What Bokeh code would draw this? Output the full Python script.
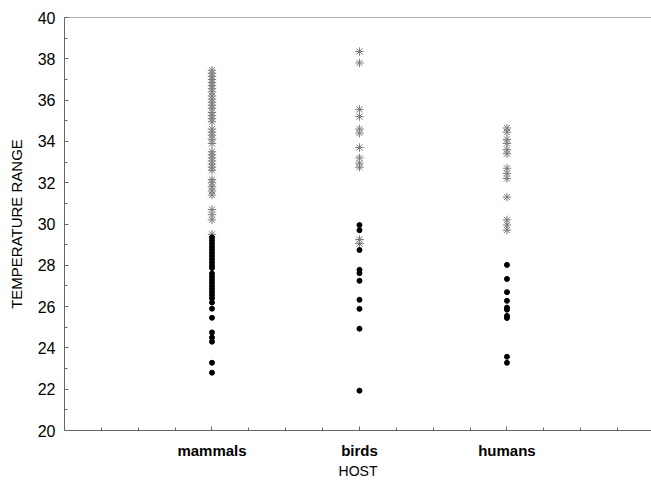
from bokeh.plotting import figure
from bokeh.models import FixedTicker, Span, Range1d
from bokeh.embed import file_html
from bokeh.resources import INLINE

# categories (x positions 1, 2, 3)
hosts = ["mammals", "birds", "humans"]
host_pos = [1, 2, 3]

# temperature ranges: black dots
mammals_dot = [29.35, 29.2, 29.05, 28.9, 28.75, 28.6, 28.45, 28.3, 28.15, 28.0, 27.87,
               27.6, 27.45, 27.3, 27.15, 27.0, 26.85, 26.7, 26.55, 26.4, 26.2,
               25.9, 25.46, 24.75, 24.5, 24.3, 23.28, 22.8]
birds_dot = [29.95, 29.7, 28.74, 27.78, 27.62, 27.25, 26.33, 25.89, 24.93, 21.93]
humans_dot = [28.02, 27.34, 26.7, 26.28, 25.95, 25.85, 25.55, 25.45, 23.57, 23.28]

# temperature ranges: grey asterisks
mammals_star = [37.45, 37.3, 37.15, 37.0, 36.85, 36.7, 36.55, 36.4, 36.2, 36.05, 35.9,
                35.75, 35.6, 35.4, 35.25, 35.1, 34.95,
                34.6, 34.45, 34.3, 34.1, 33.9,
                33.5, 33.35, 33.2, 33.05, 32.9, 32.75, 32.6,
                32.15, 32.0, 31.8, 31.6, 31.4,
                30.7, 30.45, 30.2, 29.5]
birds_star = [38.35, 37.8, 35.55, 35.2, 34.6, 34.4, 33.7, 33.2, 32.95, 32.75, 29.25, 29.05]
humans_star = [34.65, 34.45, 34.1, 33.9, 33.6, 33.4, 32.7, 32.45, 32.2, 31.3, 30.2, 29.95, 29.7]

y_ticks = [20, 22, 24, 26, 28, 30, 32, 34, 36, 38, 40]

dot_x, dot_y, star_x, star_y = [], [], [], []
for pos, d, s in zip(host_pos, [mammals_dot, birds_dot, humans_dot],
                     [mammals_star, birds_star, humans_star]):
    dot_x += [pos] * len(d)
    dot_y += d
    star_x += [pos] * len(s)
    star_y += s

p = figure(width=651, height=481, output_backend="svg", toolbar_location=None,
           x_range=Range1d(0, 3.98), y_range=Range1d(20, 40),
           min_border_left=64, min_border_right=0, min_border_top=17, min_border_bottom=50)
p.outline_line_color = None
p.xgrid.visible = False
p.ygrid.visible = False
p.background_fill_color = "white"
p.border_fill_color = "white"

p.add_layout(Span(location=40, dimension="width", line_color="#666666", line_width=1))

p.scatter(star_x, star_y, marker="asterisk", size=8.5, line_color="#7a7a7a", line_width=1)
p.scatter(dot_x, dot_y, marker="circle", size=5, fill_color="black", line_color="black")

ax = p.xaxis[0]
ax.ticker = FixedTicker(ticks=host_pos, minor_ticks=[0.25, 0.5, 0.75, 1.25, 1.5, 1.75, 2.25, 2.5,
                                                       2.75, 3.25, 3.5, 3.75])
ax.major_label_overrides = {pos: name for pos, name in zip(host_pos, hosts)}
ax.axis_label = "HOST"
ay = p.yaxis[0]
ay.ticker = FixedTicker(ticks=y_ticks, minor_ticks=[21, 23, 25, 27, 29, 31, 33, 35, 37, 39])
ay.axis_label = "TEMPERATURE RANGE"

for a in (ax, ay):
    a.axis_line_color = "#666666"
    a.major_tick_line_color = "#666666"
    a.minor_tick_line_color = "#666666"
    a.major_tick_in = 4
    a.major_tick_out = 0
    a.minor_tick_in = 3
    a.minor_tick_out = 0
    a.major_label_text_font = "Liberation Sans"
    a.major_label_text_color = "black"
    a.axis_label_text_font = "Liberation Sans"
    a.axis_label_text_font_style = "normal"
    a.axis_label_text_color = "black"

ax.major_label_text_font_size = "15px"
ax.major_label_text_font_style = "bold"
ax.major_label_standoff = 11
ax.axis_label_text_font_size = "14px"
ax.axis_label_standoff = 1

ay.major_label_text_font_size = "16px"
ay.major_label_standoff = 9
ay.axis_label_text_font_size = "15px"
ay.axis_label_standoff = 10

open("out.html", "w").write(file_html(p, INLINE))
